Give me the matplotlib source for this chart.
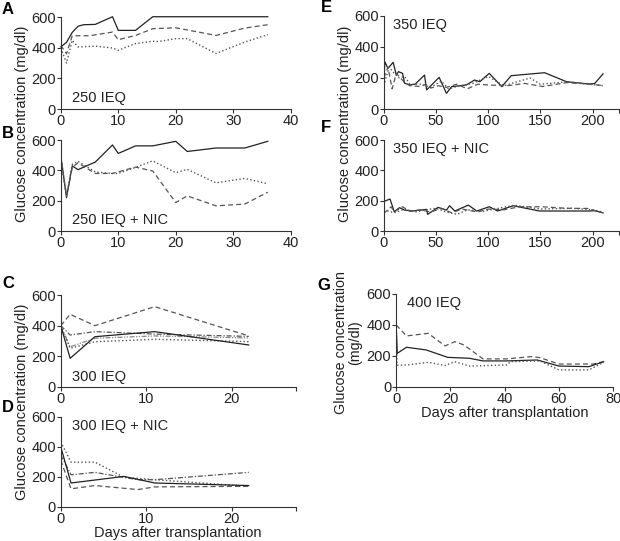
import matplotlib
matplotlib.use('Agg')
import matplotlib.pyplot as plt

plt.rcParams['font.family'] = ['Liberation Sans', 'DejaVu Sans']

# ---- data (mg/dl vs days) ----
# A: 250 IEQ
a_solid_x = [0, 1, 2, 3, 4, 6, 9, 10, 13, 16, 36]
a_solid_y = [405, 435, 500, 540, 550, 552, 602, 513, 513, 602, 602]
a_dash_x = [0, 1, 2, 5, 9, 10, 13, 16, 20, 27, 32, 36]
a_dash_y = [416, 360, 478, 478, 502, 452, 480, 524, 530, 480, 528, 550]
a_dot_x = [0, 1, 2, 3, 6, 9, 10, 13, 16, 17, 20, 22, 27, 32, 36]
a_dot_y = [398, 300, 448, 405, 410, 398, 383, 427, 442, 440, 459, 459, 362, 437, 485]

# B: 250 IEQ + NIC
b_solid_x = [0, 1, 2, 3, 6, 9, 10, 13, 16, 20, 22, 27, 32, 36]
b_solid_y = [500, 220, 430, 405, 455, 568, 512, 562, 562, 592, 525, 548, 548, 592]
b_dash_x = [0, 1, 2, 3, 6, 9, 13, 16, 20, 22, 27, 32, 36]
b_dash_y = [500, 230, 420, 450, 380, 380, 422, 396, 188, 232, 166, 178, 256]
b_dot_x = [0, 1, 2, 3, 6, 9, 10, 13, 16, 20, 22, 27, 32, 36]
b_dot_y = [450, 240, 440, 460, 390, 380, 380, 420, 463, 385, 407, 318, 347, 312]

# C: 300 IEQ
c_x = [0, 1.1, 4, 11, 22]
c_solid = [400, 187, 328, 361, 274]
c_dash = [400, 474, 400, 524, 333]
c_dashdot = [400, 339, 361, 345, 330]
c_dot = [400, 252, 295, 311, 296]
c_dashdotdot = [400, 262, 318, 333, 320]

# D: 300 IEQ + NIC
d_solid_x = [0, 1.2, 7.4, 11, 22]
d_solid_y = [400, 158, 202, 158, 141]
d_dot_x = [0, 1.2, 4, 7.4, 11, 22]
d_dot_y = [433, 297, 297, 196, 180, 136]
d_dashdot_x = [0, 1.2, 4, 9, 11, 22]
d_dashdot_y = [345, 213, 229, 180, 180, 229]
d_dash_x = [0, 1.2, 4, 9, 11, 22]
d_dash_y = [310, 119, 141, 114, 132, 136]

# E: 350 IEQ
e_solid_x = [0, 1, 4, 9, 12, 14, 18, 20, 25, 30, 39, 41, 45, 53, 60, 65, 79, 87, 92, 101, 113, 122, 154, 175, 197, 202, 210]
e_solid_y = [144, 305, 262, 301, 219, 241, 230, 166, 155, 160, 219, 123, 150, 204, 101, 144, 155, 187, 176, 230, 144, 215, 234, 176, 161, 165, 227]
e_dash_x = [0, 4, 8, 12, 16, 20, 25, 35, 40, 45, 52, 60, 70, 80, 90, 100, 118, 135, 152, 175, 200, 210]
e_dash_y = [200, 270, 130, 230, 200, 170, 150, 145, 160, 135, 150, 140, 160, 130, 160, 155, 150, 165, 145, 170, 160, 150]
e_dot_x = [0, 5, 10, 15, 20, 25, 35, 45, 55, 62, 70, 85, 100, 115, 140, 150, 175, 210]
e_dot_y = [150, 270, 230, 200, 210, 160, 160, 140, 180, 130, 145, 165, 210, 150, 200, 160, 175, 150]

# F: 350 IEQ + NIC
f_solid_x = [0, 6, 10, 15, 20, 28, 41, 42, 52, 60, 63, 68, 81, 89, 101, 109, 124, 149, 197, 202, 210]
f_solid_y = [195, 211, 127, 154, 138, 132, 143, 110, 156, 138, 167, 132, 171, 132, 160, 132, 167, 132, 132, 134, 120]
f_dash_x = [0, 7, 10, 18, 25, 35, 45, 55, 65, 75, 90, 100, 115, 130, 152, 175, 195, 210]
f_dash_y = [116, 160, 127, 160, 130, 140, 125, 150, 120, 145, 125, 145, 140, 160, 160, 150, 149, 120]
f_dot_x = [0, 10, 20, 30, 40, 50, 60, 70, 80, 95, 110, 125, 150, 180, 200, 210]
f_dot_y = [140, 120, 145, 125, 140, 150, 125, 110, 140, 130, 150, 170, 145, 150, 140, 125]

# G: 400 IEQ
g_dash_x = [0, 3.8, 11.8, 18, 21.6, 25, 32, 40.7, 50, 53, 60, 72.6, 76.5]
g_dash_y = [400, 329, 346, 265, 292, 271, 181, 181, 196, 189, 148, 148, 163]
g_solid_x = [0, 0.4, 3.8, 11, 19, 27, 32, 40.7, 52, 60, 71, 76.5]
g_solid_y = [400, 217, 256, 239, 191, 185, 168, 168, 174, 135, 131, 163]
g_dot_x = [0, 0.3, 4, 12, 18, 21.6, 27, 41, 42, 53, 60, 71, 76.5]
g_dot_y = [400, 140, 142, 159, 138, 163, 135, 142, 163, 168, 110, 110, 159]

yticks = [0, 200, 400, 600]
ylabel = 'Glucose concentration (mg/dl)'
xlabel = 'Days after transplantation'

fig = plt.figure(figsize=(6.2, 5.41), dpi=100)
txt = '#222222'

def make_ax(rect, xlim, xticks, xlabels):
    ax = fig.add_axes(rect)
    ax.set_xlim(xlim)
    ax.set_ylim(0, 600)
    ax.set_yticks(yticks)
    ax.set_xticks(xticks)
    ax.set_xticklabels(xlabels)
    for s in ['top', 'right']:
        ax.spines[s].set_visible(False)
    for s in ['left', 'bottom']:
        ax.spines[s].set_linewidth(0.8)
        ax.spines[s].set_color('#333333')
    ax.tick_params(direction='out', length=3, width=0.8, labelsize=10.5, pad=0.5,
                   colors='#333333', labelcolor=txt)
    return ax

dk = '#222222'
gr = '#555555'
lw = 0.9

# A
axA = make_ax([0.098, 0.7985, 0.371, 0.170], (0, 40), [0, 10, 20, 30, 40], ['0', '10', '20', '30', '40'])
axA.plot(a_solid_x, a_solid_y, '-', color=dk, lw=lw, clip_on=False)
axA.plot(a_dash_x, a_dash_y, '--', color=gr, lw=lw, dashes=(4, 2.5))
axA.plot(a_dot_x, a_dot_y, ':', color=gr, lw=1.0)
axA.text(0.048, 0.12, '250 IEQ', transform=axA.transAxes, fontsize=10.5, va='center', color=txt)

# B
axB = make_ax([0.098, 0.573, 0.371, 0.168], (0, 40), [0, 10, 20, 30, 40], ['0', '10', '20', '30', '40'])
axB.plot(b_solid_x, b_solid_y, '-', color=dk, lw=lw)
axB.plot(b_dash_x, b_dash_y, '--', color=gr, lw=lw, dashes=(4, 2.5))
axB.plot(b_dot_x, b_dot_y, ':', color=gr, lw=1.0)
axB.text(0.048, 0.12, '250 IEQ + NIC', transform=axB.transAxes, fontsize=10.5, va='center', color=txt)

# C
axC = make_ax([0.098, 0.2847, 0.379, 0.170], (0, 27.5), [0, 10, 20, 27.5], ['0', '10', '20', ''])
axC.plot(c_x, c_dash, '--', color=gr, lw=lw, dashes=(4, 2.5))
axC.plot(c_x, c_dashdot, '-.', color=gr, lw=lw, dashes=(4, 1.5, 1, 1.5))
axC.plot(c_x, c_dashdotdot, color='#888888', lw=lw, dashes=(4, 1.2, 1, 1.2, 1, 1.2))
axC.plot(c_x, c_dot, ':', color=gr, lw=1.0)
axC.plot(c_x, c_solid, '-', color=dk, lw=lw)
axC.text(0.047, 0.11, '300 IEQ', transform=axC.transAxes, fontsize=10.5, va='center', color=txt)

# D
axD = make_ax([0.098, 0.0635, 0.379, 0.166], (0, 27.5), [0, 10, 20, 27.5], ['0', '10', '20', ''])
axD.plot(d_dot_x, d_dot_y, ':', color=gr, lw=1.0)
axD.plot(d_dashdot_x, d_dashdot_y, '-.', color=gr, lw=lw, dashes=(4, 1.5, 1, 1.5))
axD.plot(d_dash_x, d_dash_y, '--', color=gr, lw=lw, dashes=(4, 2.5))
axD.plot(d_solid_x, d_solid_y, '-', color=dk, lw=lw)
axD.text(0.047, 0.90, '300 IEQ + NIC', transform=axD.transAxes, fontsize=10.5, va='center', color=txt)
axD.set_xlabel(xlabel, fontsize=10.5, labelpad=0, color=txt)

# E
axE = make_ax([0.619, 0.7985, 0.379, 0.172], (0, 225), [0, 50, 100, 150, 200, 225], ['0', '50', '100', '150', '200', ''])
axE.plot(e_solid_x, e_solid_y, '-', color=dk, lw=lw)
axE.plot(e_dash_x, e_dash_y, '--', color=gr, lw=lw, dashes=(4, 2.5))
axE.plot(e_dot_x, e_dot_y, ':', color=gr, lw=1.0)
axE.text(0.04, 0.90, '350 IEQ', transform=axE.transAxes, fontsize=10.5, va='center', color=txt)

# F
axF = make_ax([0.619, 0.573, 0.379, 0.168], (0, 225), [0, 50, 100, 150, 200, 225], ['0', '50', '100', '150', '200', ''])
axF.plot(f_solid_x, f_solid_y, '-', color=dk, lw=lw)
axF.plot(f_dash_x, f_dash_y, '--', color=gr, lw=lw, dashes=(4, 2.5))
axF.plot(f_dot_x, f_dot_y, ':', color=gr, lw=1.0)
axF.text(0.04, 0.90, '350 IEQ + NIC', transform=axF.transAxes, fontsize=10.5, va='center', color=txt)

# G
axG = make_ax([0.639, 0.2847, 0.350, 0.172], (0, 80), [0, 20, 40, 60, 80], ['0', '20', '40', '60', '80'])
axG.plot(g_dash_x, g_dash_y, '--', color=gr, lw=lw, dashes=(4, 2.5))
axG.plot(g_solid_x, g_solid_y, '-', color=dk, lw=lw)
axG.plot(g_dot_x, g_dot_y, ':', color=gr, lw=1.0)
axG.text(0.05, 0.90, '400 IEQ', transform=axG.transAxes, fontsize=10.5, va='center', color=txt)
axG.set_xlabel(xlabel, fontsize=10.5, labelpad=0, color=txt)

# y labels
fig.text(0.036, 0.771, ylabel, rotation=90, ha='center', va='center', fontsize=10.5, color=txt)
fig.text(0.036, 0.257, ylabel, rotation=90, ha='center', va='center', fontsize=10.5, color=txt)
fig.text(0.556, 0.771, ylabel, rotation=90, ha='center', va='center', fontsize=10.5, color=txt)
fig.text(0.562, 0.366, 'Glucose concentration\n(mg/dl)', rotation=90, ha='center', va='center',
         fontsize=10.3, color=txt, linespacing=1.0)

# panel letters
for lab, xp, yp in [('A', 8, 10), ('B', 8, 133), ('C', 8, 283), ('D', 8, 408),
                    ('E', 326, 8), ('F', 326, 128), ('G', 324, 285)]:
    fig.text(xp / 620, 1 - yp / 541, lab, fontsize=12, fontweight='bold', ha='center', va='center')

fig.savefig('out.png', dpi=100)
